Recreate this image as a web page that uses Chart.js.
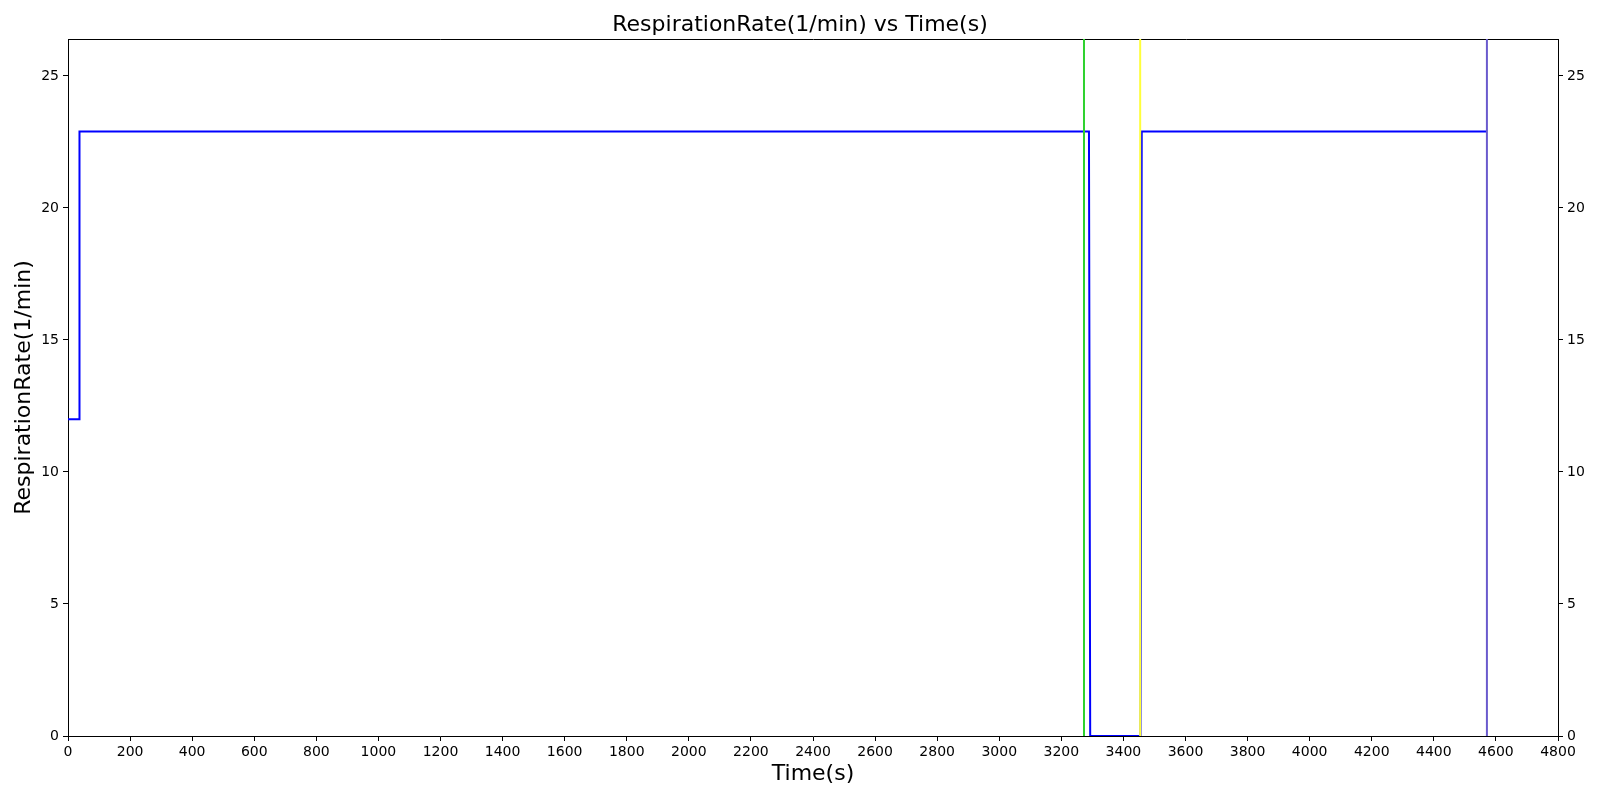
<!DOCTYPE html>
<html>
<head>
<meta charset="utf-8">
<script src="https://cdn.jsdelivr.net/npm/chart.js@4"></script>
<style>
  body { margin: 0; background: #fff; }
  #wrap { width: 1600px; height: 800px; }
</style>
</head>
<body>
<div id="wrap"><canvas id="rrChart" width="1600" height="800"></canvas></div>
<script>
// time (s) and respiration rate (1/min)
const times = [0, 36, 37, 3289, 3293, 3455, 3459, 4570];
const rates = [12, 12, 22.9, 22.9, 0, 0, 22.9, 22.9];

// event markers (vertical lines)
const markerTimes = [3273, 3454, 4571];
const markerColors = ["#2fd22f", "#ffff3a", "#6a5acd"];

const xTicks = [0, 200, 400, 600, 800, 1000, 1200, 1400, 1600, 1800, 2000, 2200, 2400,
                2600, 2800, 3000, 3200, 3400, 3600, 3800, 4000, 4200, 4400, 4600, 4800];
const yTicks = [0, 5, 10, 15, 20, 25];

const xMin = 0, xMax = 4800;
const yMin = 0, yMax = 26.4;

const font = "'DejaVu Sans', sans-serif";

const seriesData = times.map((t, i) => ({ x: t, y: rates[i] }));

const datasets = [{
    label: "RespirationRate",
    data: seriesData,
    borderColor: "#0000ff",
    borderWidth: 2,
    pointRadius: 0,
    tension: 0,
    fill: false,
    order: 1
}];

markerTimes.forEach((t, i) => {
    datasets.push({
        label: "marker" + i,
        data: [{ x: t, y: yMin }, { x: t, y: yMax }],
        borderColor: markerColors[i],
        borderWidth: 2,
        pointRadius: 0,
        fill: false,
        order: 0
    });
});

function setTicks(list) {
    return scale => { scale.ticks = list.map(v => ({ value: v })); };
}

const tickFont = { family: font, size: 14 };

new Chart(document.getElementById("rrChart"), {
    type: "line",
    data: { datasets: datasets },
    options: {
        responsive: false,
        animation: false,
        devicePixelRatio: 1,
        layout: { padding: 0 },
        plugins: {
            legend: { display: false },
            tooltip: { enabled: false },
            title: {
                display: true,
                text: "RespirationRate(1/min) vs Time(s)",
                color: "#000",
                font: { family: font, size: 22, weight: "normal" },
                padding: { top: 12, bottom: 0.6 }
            }
        },
        scales: {
            x: {
                type: "linear",
                position: "bottom",
                min: xMin,
                max: xMax,
                afterBuildTicks: setTicks(xTicks),
                afterFit: s => { s.height = 64; },
                ticks: {
                    color: "#000",
                    font: tickFont,
                    padding: 3,
                    maxRotation: 0,
                    autoSkip: false,
                    callback: v => String(v)
                },
                grid: { drawOnChartArea: false, color: "#000", tickLength: 5 },
                border: { color: "#000", width: 1 },
                title: {
                    display: true,
                    text: "Time(s)",
                    color: "#000",
                    font: { family: font, size: 22 },
                    padding: { top: 0, bottom: 13 }
                }
            },
            x2: {
                type: "linear",
                position: "top",
                min: xMin,
                max: xMax,
                afterFit: s => { s.height = 0; },
                ticks: { display: false },
                grid: { display: false, drawTicks: false },
                border: { display: true, color: "#000", width: 1 }
            },
            y: {
                type: "linear",
                position: "left",
                min: yMin,
                max: yMax,
                afterBuildTicks: setTicks(yTicks),
                afterFit: s => { s.width = 68; },
                ticks: { color: "#000", font: tickFont, padding: 4 },
                grid: { drawOnChartArea: false, color: "#000", tickLength: 5 },
                border: { color: "#000", width: 1 },
                title: {
                    display: true,
                    text: "RespirationRate(1/min)",
                    color: "#000",
                    font: { family: font, size: 22 },
                    padding: { top: 11, bottom: 0 }
                }
            },
            y2: {
                type: "linear",
                position: "right",
                min: yMin,
                max: yMax,
                afterBuildTicks: setTicks(yTicks),
                afterFit: s => { s.width = 42; },
                ticks: { color: "#000", font: tickFont, padding: 4 },
                grid: { drawOnChartArea: false, color: "#000", tickLength: 5 },
                border: { color: "#000", width: 1 }
            }
        }
    }
});
</script>
</body>
</html>
